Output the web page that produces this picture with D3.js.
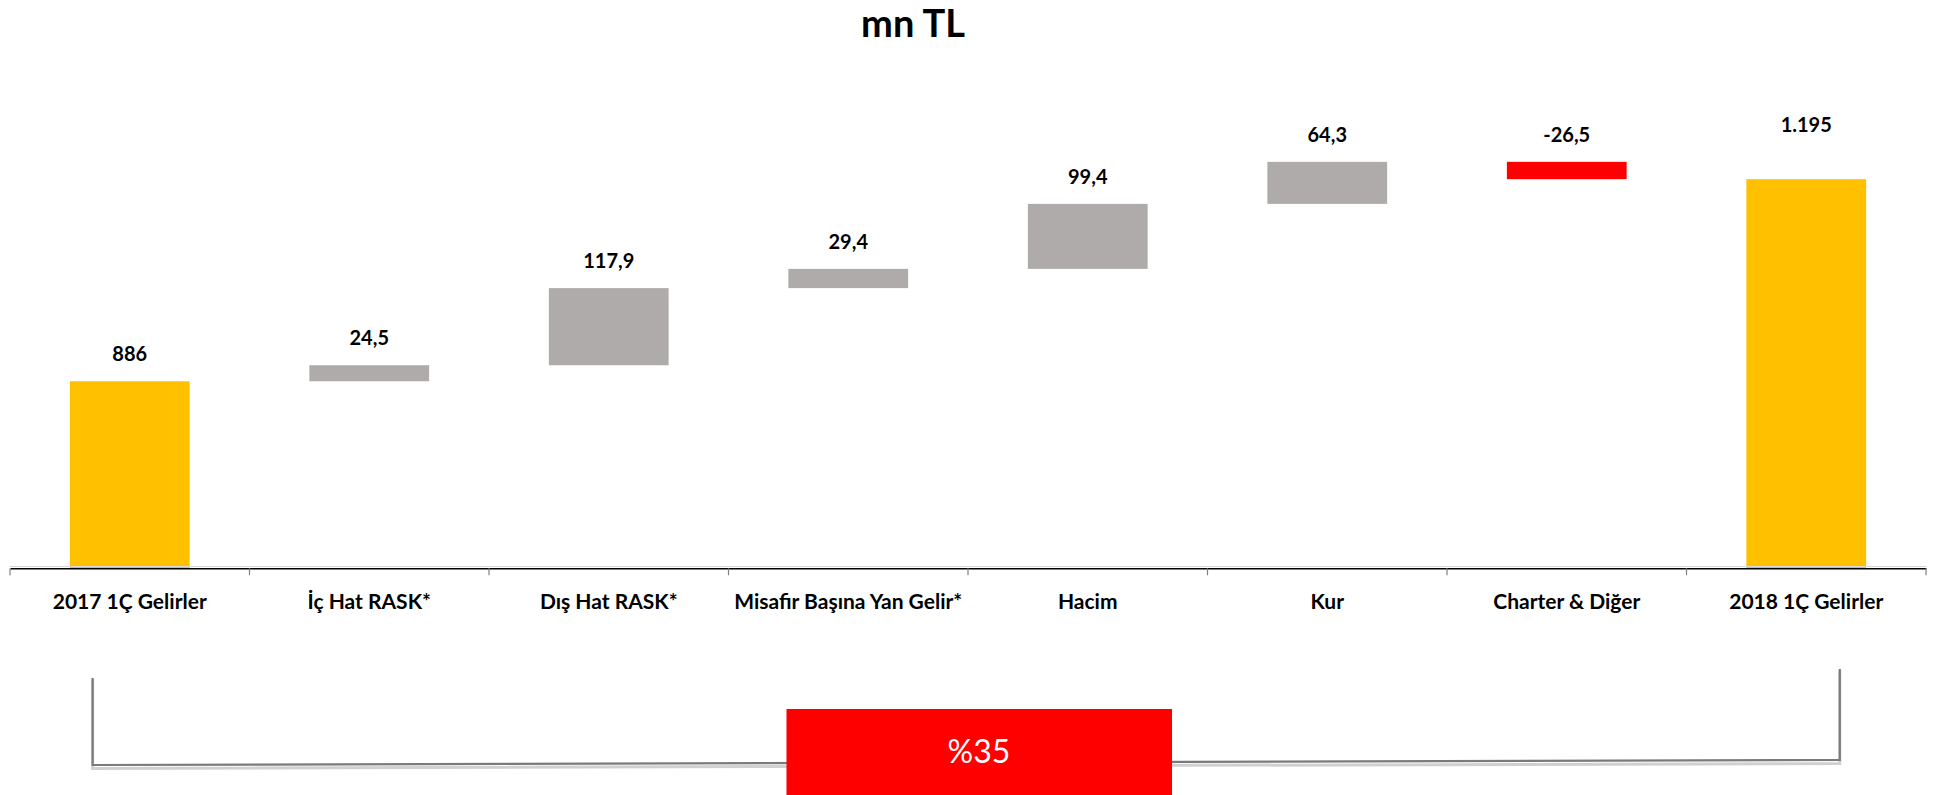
<!DOCTYPE html>
<html><head><meta charset="utf-8">
<script src="https://cdn.jsdelivr.net/npm/d3@7"></script>
<style>html,body{margin:0;padding:0;background:#fff;}svg{display:block;}</style>
</head><body>
<svg id="c" width="1936" height="795"></svg>
<script>
const categories = ["2017 1Ç Gelirler","İç Hat RASK*","Dış Hat RASK*","Misafir Başına Yan Gelir*","Hacim","Kur","Charter & Diğer","2018 1Ç Gelirler"];
const values = [886, 24.5, 117.9, 29.4, 99.4, 64.3, -26.5, 1195];
const kinds = ["total","delta","delta","delta","delta","delta","delta","total"];
const yDomain = [600, 1400];
const title = "mn TL";
const growthLabel = "%35";

const W = 1936, H = 795;
const svg = d3.select("#c");
const FONT = "Lato, 'Open Sans', sans-serif";
const loc = d3.formatLocale({decimal: ",", thousands: ".", grouping: [3], currency: ["", " TL"], minus: "-"});
const fTotal = loc.format(",.0f"), fDelta = loc.format(".1f");

// build waterfall
let run = 0;
const rows = categories.map((c, i) => {
  let lo, hi;
  if (kinds[i] === "total") { lo = yDomain[0]; hi = values[i]; run = values[i]; }
  else { const s = run; run += values[i]; lo = Math.min(s, run); hi = Math.max(s, run); }
  return {c, v: values[i], kind: kinds[i], lo, hi};
});

const x = d3.scaleBand().domain(categories).range([10, 1926]).paddingInner(0.5).paddingOuter(0.25);
const y = d3.scaleLinear().domain(yDomain).range([568.3, 45.1]);

svg.append("text").attr("x", 913).attr("y", 37).attr("text-anchor", "middle")
  .attr("font-family", FONT).attr("font-weight", 700).attr("font-size", 38).text(title);

const color = d => d.kind === "total" ? "#FFC000" : (d.v < 0 ? "#FF0000" : "#AFABAB");
svg.append("g").selectAll("rect").data(rows).join("rect")
  .attr("x", d => x(d.c)).attr("width", x.bandwidth())
  .attr("y", d => y(d.hi)).attr("height", d => y(d.lo) - y(d.hi))
  .attr("fill", color);

svg.append("g").selectAll("text").data(rows).join("text")
  .attr("x", d => x(d.c) + x.bandwidth() / 2)
  .attr("y", (d, i) => y(d.hi) - (i === rows.length - 1 ? 47 : 20))
  .attr("text-anchor", "middle").attr("font-family", FONT).attr("font-weight", 700).attr("font-size", 20)
  .text(d => d.kind === "total" ? fTotal(d.v) : fDelta(d.v));

// axis
const xb = d3.scaleBand().domain(categories).range([10, 1926]);
const ax = svg.append("g").attr("transform", `translate(0,${y(yDomain[0])})`)
  .call(d3.axisBottom(xb).tickSize(0).tickPadding(0).tickFormat(""));
ax.select(".domain").attr("stroke", "#000").attr("stroke-width", 1.5);
ax.selectAll(".tick").remove();
svg.append("line").attr("x1", 10).attr("x2", 1926).attr("y1", y(yDomain[0]) - 1.8).attr("y2", y(yDomain[0]) - 1.8)
  .attr("stroke", "#d9d9d9").attr("stroke-width", 1);
const edges = categories.map(c => xb(c)).concat([xb.range()[1]]);
svg.append("g").selectAll("line").data(edges).join("line")
  .attr("x1", d => d).attr("x2", d => d).attr("y1", y(yDomain[0])).attr("y2", y(yDomain[0]) + 7)
  .attr("stroke", "#808080").attr("stroke-width", 1.2);
svg.append("g").selectAll("text").data(categories).join("text")
  .attr("x", d => xb(d) + xb.bandwidth() / 2).attr("y", 608.5)
  .attr("text-anchor", "middle").attr("font-family", FONT).attr("font-weight", 700).attr("font-size", 21)
  .text(d => d);

// bracket
const bx0 = x(categories[0]) + x.bandwidth() * 0.19, bx1 = x(categories[categories.length - 1]) + x.bandwidth() * 0.78;
const g = svg.append("g");
g.append("path").attr("d", `M${bx0},678 L${bx0},767 L${bx1},762 L${bx1},669`)
  .attr("fill", "none").attr("stroke", "#d0d0d0").attr("stroke-width", 3).attr("transform", "translate(0,1.5)");
g.append("path").attr("d", `M${bx0},678 L${bx0},765 L${bx1},760 L${bx1},669`)
  .attr("fill", "none").attr("stroke", "#7a7a7a").attr("stroke-width", 2.2);
g.append("rect").attr("x", 786.5).attr("y", 709).attr("width", 385.5).attr("height", 90).attr("fill", "#FF0000");
g.append("text").attr("x", 979).attr("y", 763).attr("text-anchor", "middle").attr("fill", "#fff")
  .attr("font-family", FONT).attr("font-size", 32).text(growthLabel);
</script>
</body></html>
